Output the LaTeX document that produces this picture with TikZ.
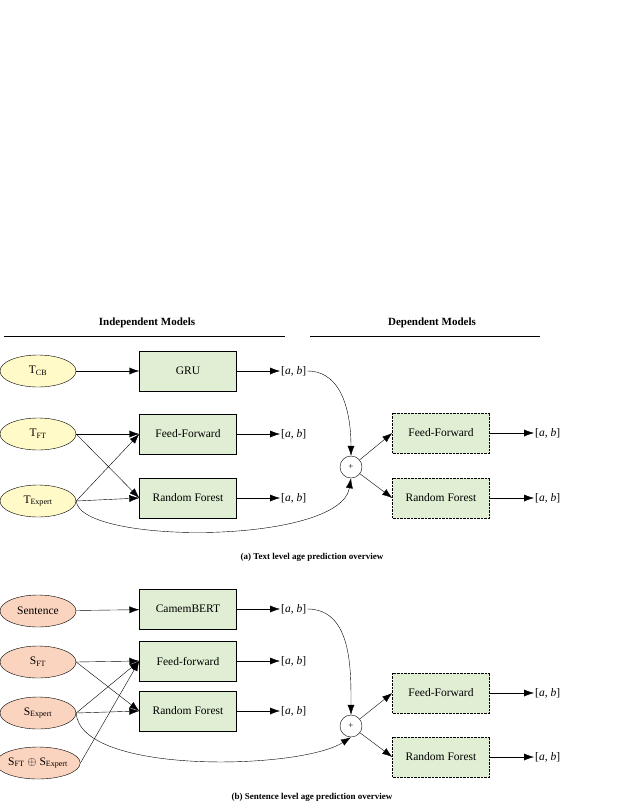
\documentclass[tikz,border=0pt]{standalone}
\usepackage{fontspec}
\setmainfont{Liberation Serif}
\usetikzlibrary{arrows.meta,shapes.geometric}

\definecolor{inyellow}{RGB}{255,250,200}
\definecolor{insalmon}{RGB}{250,212,190}
\definecolor{modgreen}{RGB}{224,238,212}

\tikzset{
  feat/.style={ellipse,draw,minimum width=76pt,minimum height=32pt,inner sep=0pt,font=\fontsize{11.5}{13}\selectfont},
  model/.style={rectangle,draw,fill=modgreen,minimum width=97pt,minimum height=40pt,font=\fontsize{11.5}{13}\selectfont},
  depmodel/.style={model,densely dotted},
  outp/.style={font=\fontsize{11.5}{13}\selectfont,inner sep=1pt},
  plus/.style={circle,draw,minimum size=22pt,inner sep=0pt,font=\fontsize{9}{10}\selectfont},
  head/.style={font=\bfseries\fontsize{11}{13}\selectfont},
  arr/.style={-{Latex[length=10pt,width=7pt]}}
}

\begin{document}
\begin{tikzpicture}[x=1pt,y=-1pt]
  \useasboundingbox (0,0) rectangle (623,806);

  % headings
  \node[head] (hind) at (147,323) {Independent Models};
  \node[head] (hdep) at (432,323) {Dependent Models};
  \draw (4,336) -- (285,336);
  \draw (310,336) -- (540,336);

  % (a) text level
  \node[feat,fill=inyellow] (tcb) at (38,371) {T\textsubscript{CB}};
  \node[feat,fill=inyellow] (tft) at (38,434) {T\textsubscript{FT}};
  \node[feat,fill=inyellow] (tex) at (38,501) {T\textsubscript{Expert}};
  \node[model] (gru) at (188,371) {GRU};
  \node[model] (ffa) at (188,434) {Feed-Forward};
  \node[model] (rfa) at (188,498) {Random Forest};
  \node[outp,anchor=west] (ogru) at (280,371) {[\textit{a}, \textit{b}]};
  \node[outp,anchor=west] (offa) at (280,434) {[\textit{a}, \textit{b}]};
  \node[outp,anchor=west] (orfa) at (280,498) {[\textit{a}, \textit{b}]};
  \node[plus] (pa) at (351,467) {+};
  \node[depmodel] (dffa) at (441,433) {Feed-Forward};
  \node[depmodel] (drfa) at (441,498) {Random Forest};
  \node[outp,anchor=west] (odffa) at (534,433) {[\textit{a}, \textit{b}]};
  \node[outp,anchor=west] (odrfa) at (534,498) {[\textit{a}, \textit{b}]};

  \draw[arr] (tcb) -- (gru);
  \draw[arr] (tft.east) -- (ffa.west);
  \draw[arr] (tft.east) -- (rfa.west);
  \draw[arr] (tex.east) -- (ffa.west);
  \draw[arr] (tex.east) -- (rfa.west);
  \draw[arr] (gru) -- (ogru);
  \draw[arr] (ffa) -- (offa);
  \draw[arr] (rfa) -- (orfa);
  \draw[arr] (ogru.east) to[out=0,in=90] (pa.north);
  \draw[arr] (tex.east) .. controls (80,545) and (340,545) .. (pa.south);
  \draw[arr] (pa) -- (dffa.west);
  \draw[arr] (pa) -- (drfa.west);
  \draw[arr] (dffa) -- (odffa);
  \draw[arr] (drfa) -- (odrfa);
  \node[head,font=\bfseries\fontsize{9}{11}\selectfont] (capa) at (312,557) {(a) Text level age prediction overview};

  % (b) sentence level
  \node[feat,fill=insalmon] (sent) at (38,611) {Sentence};
  \node[feat,fill=insalmon] (sft) at (38,662) {S\textsubscript{FT}};
  \node[feat,fill=insalmon] (sex) at (38,713) {S\textsubscript{Expert}};
  \node[feat,fill=insalmon] (sboth) at (38,763) {S\textsubscript{FT} $\oplus$ S\textsubscript{Expert}};
  \node[model] (cam) at (188,609) {CamemBERT};
  \node[model] (ffb) at (188,661) {Feed-forward};
  \node[model] (rfb) at (188,711) {Random Forest};
  \node[outp,anchor=west] (ocam) at (280,609) {[\textit{a}, \textit{b}]};
  \node[outp,anchor=west] (offb) at (280,661) {[\textit{a}, \textit{b}]};
  \node[outp,anchor=west] (orfb) at (280,711) {[\textit{a}, \textit{b}]};
  \node[plus] (pb) at (351,726) {+};
  \node[depmodel] (dffb) at (441,693) {Feed-Forward};
  \node[depmodel] (drfb) at (441,757) {Random Forest};
  \node[outp,anchor=west] (odffb) at (534,693) {[\textit{a}, \textit{b}]};
  \node[outp,anchor=west] (odrfb) at (534,757) {[\textit{a}, \textit{b}]};

  \draw[arr] (sent) -- (cam);
  \draw[arr] (sft.east) -- (ffb.west);
  \draw[arr] (sft.east) -- (rfb.west);
  \draw[arr] (sex.east) -- (ffb.west);
  \draw[arr] (sex.east) -- (rfb.west);
  \draw[arr] (sboth.east) -- (ffb.west);
  \draw[arr] (cam) -- (ocam);
  \draw[arr] (ffb) -- (offb);
  \draw[arr] (rfb) -- (orfb);
  \draw[arr] (ocam.east) to[out=0,in=90] (pb.north);
  \draw[arr] (sex.east) .. controls (80,775) and (300,770) .. (pb.south);
  \draw[arr] (pb) -- (dffb.west);
  \draw[arr] (pb) -- (drfb.west);
  \draw[arr] (dffb) -- (odffb);
  \draw[arr] (drfb) -- (odrfb);
  \node[head,font=\bfseries\fontsize{9}{11}\selectfont] (capb) at (312,797) {(b) Sentence level age prediction overview};
\end{tikzpicture}
\end{document}
